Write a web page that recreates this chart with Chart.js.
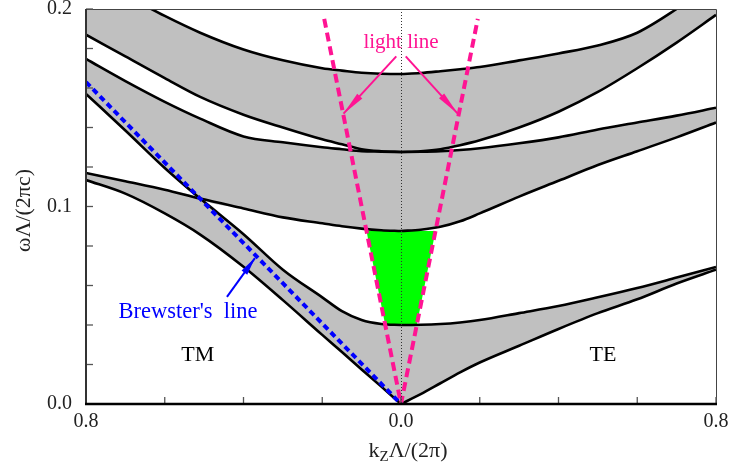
<!DOCTYPE html>
<html>
<head>
<meta charset="utf-8">
<title>Bandas projetadas TM / TE</title>
<script src="https://cdn.jsdelivr.net/npm/chart.js@4.4.0/dist/chart.umd.min.js"></script>
<style>
  html, body { margin: 0; padding: 0; background: #fff; }
</style>
</head>
<body>
<canvas id="grafico" width="730" height="471"></canvas>
<script>
// kz (em unidades de 2pi/Lambda): TM à esquerda, TE à direita
const kzTM = [-0.8, -0.7, -0.6, -0.51, -0.4, -0.3, -0.2, -0.15, -0.1, -0.05, 0];
const kzTE = [0, 0.05, 0.1, 0.15, 0.2, 0.3, 0.4, 0.5, 0.6, 0.7, 0.8];

// bordas das bandas TM (omega Lambda / 2 pi c)
const tmBaixo1 = [0.1134, 0.1065, 0.0965, 0.0858, 0.0695, 0.0526, 0.0350, 0.0263, 0.0175, 0.0088, 0];
const tmCurvaS = [0.1570, 0.1385, 0.1195, 0.1040, 0.0860, 0.0680, 0.0540, 0.0470, 0.0425, 0.0405, 0.0400];
const tmCurvaH = [0.1170, 0.1128, 0.1085, 0.1040, 0.0990, 0.0945, 0.0915, 0.0900, 0.0888, 0.0880, 0.0876];
const tmTopo2  = [0.1747, 0.1635, 0.1530, 0.1445, 0.1355, 0.1325, 0.1300, 0.1290, 0.1280, 0.1278, 0.1276];
const tmBaixo3 = [0.1870, 0.1760, 0.1650, 0.1555, 0.1465, 0.1400, 0.1340, 0.1315, 0.1290, 0.1280, 0.1276];
const tmTopo3  = [0.2180, 0.2070, 0.1965, 0.1880, 0.1795, 0.1740, 0.1700, 0.1688, 0.1677, 0.1672, 0.1671];

// bordas das bandas TE
const teBaixo1 = [0, 0.0050, 0.0105, 0.0160, 0.0210, 0.0295, 0.0380, 0.0460, 0.0530, 0.0610, 0.0680];
const teTopo1  = [0.0400, 0.0401, 0.0405, 0.0413, 0.0425, 0.0460, 0.0496, 0.0540, 0.0587, 0.0640, 0.0694];
const teBaixo2 = [0.0876, 0.0882, 0.0897, 0.0925, 0.0965, 0.1050, 0.1130, 0.1210, 0.1280, 0.1350, 0.1425];
const teTopo2  = [0.1276, 0.1277, 0.1280, 0.1286, 0.1295, 0.1320, 0.1350, 0.1390, 0.1425, 0.1460, 0.1500];
const teBaixo3 = [0.1276, 0.1280, 0.1290, 0.1310, 0.1335, 0.1400, 0.1480, 0.1580, 0.1700, 0.1830, 0.1970];
const teTopo3  = [0.1671, 0.1676, 0.1685, 0.1695, 0.1706, 0.1740, 0.1775, 0.1815, 0.1880, 0.2000, 0.2140];

// linha de Brewster e linha de luz
const brewsterKz = [-0.8, 0];
const brewsterW  = [0.163, 0];
const luzKz = [-0.195, 0, 0.195];
const luzW  = [0.195, 0, 0.195];

const SERIF = '"Liberation Serif", "Times New Roman", serif';
const CINZA = '#c0c0c0';
const ROSA = '#ff1493';
const AZUL = '#0000ff';

function pts(xs, ys) { return xs.map((x, i) => ({ x: x, y: ys[i] })); }

const datasets = [];

function addFaixa(xs, baixo, cima) {
  const i = datasets.length;
  datasets.push({ data: pts(xs, baixo), borderColor: 'rgba(0,0,0,0)', borderWidth: 0, fill: false,
    cubicInterpolationMode: 'monotone', order: 10 });
  datasets.push({ data: pts(xs, cima), borderColor: 'rgba(0,0,0,0)', borderWidth: 0,
    fill: { target: i }, backgroundColor: CINZA, cubicInterpolationMode: 'monotone', order: 10 });
}

function addLinha(xs, ys) {
  datasets.push({ data: pts(xs, ys), borderColor: '#000', borderWidth: 2.6, fill: false,
    cubicInterpolationMode: 'monotone', order: 5 });
}

// TM: as bordas S e H se cruzam na linha de Brewster
const tmTopo1 = tmCurvaS.map((v, i) => Math.min(v, tmCurvaH[i]));
const tmBase2 = tmCurvaS.map((v, i) => Math.max(v, tmCurvaH[i]));

addFaixa(kzTM, tmBaixo1, tmTopo1);
addFaixa(kzTM, tmBase2, tmTopo2);
addFaixa(kzTM, tmBaixo3, tmTopo3);
addFaixa(kzTE, teBaixo1, teTopo1);
addFaixa(kzTE, teBaixo2, teTopo2);
addFaixa(kzTE, teBaixo3, teTopo3);

// gap omnidirecional dentro do cone de luz
const gapBaixo = tmCurvaS[tmCurvaS.length - 1];
const gapCima = tmCurvaH[tmCurvaH.length - 1];
const r = luzKz[2] / luzW[2];
datasets.push({
  data: [
    { x: -gapCima * r, y: gapCima }, { x: gapCima * r, y: gapCima },
    { x: gapBaixo * r, y: gapBaixo }, { x: -gapBaixo * r, y: gapBaixo },
    { x: -gapCima * r, y: gapCima }
  ],
  borderColor: 'rgba(0,0,0,0)', borderWidth: 0, backgroundColor: '#00ff00', fill: 'shape', tension: 0, order: 9
});

[tmBaixo1, tmCurvaS, tmCurvaH, tmTopo2, tmBaixo3, tmTopo3].forEach(c => addLinha(kzTM, c));
[teBaixo1, teTopo1, teBaixo2, teTopo2, teBaixo3, teTopo3].forEach(c => addLinha(kzTE, c));

datasets.push({ data: pts(brewsterKz, brewsterW), borderColor: AZUL, borderWidth: 4,
  borderDash: [6, 4], fill: false, tension: 0, order: 1 });
datasets.push({ data: pts(luzKz, luzW), borderColor: ROSA, borderWidth: 4,
  borderDash: [9, 5], fill: false, tension: 0, order: 1 });

function perto(a, b) { return Math.abs(a - b) < 1e-6; }

function seta(ctx, x0, y0, x1, y1, cor, L) {
  const ang = Math.atan2(y1 - y0, x1 - x0);
  const c = Math.cos(ang), s = Math.sin(ang), w = 3.5;
  ctx.strokeStyle = cor;
  ctx.fillStyle = cor;
  ctx.lineWidth = 2;
  ctx.beginPath(); ctx.moveTo(x0, y0); ctx.lineTo(x1, y1); ctx.stroke();
  ctx.beginPath();
  ctx.moveTo(x1, y1);
  ctx.lineTo(x1 - L * c + w * s, y1 - L * s - w * c);
  ctx.lineTo(x1 - L * c - w * s, y1 - L * s + w * c);
  ctx.closePath();
  ctx.fill();
}

// sem margem extra para os rótulos: a área do gráfico fica fixa
function semMargem(s) {
  s.paddingTop = 0; s.paddingBottom = 0; s.paddingLeft = 0; s.paddingRight = 0;
}

// moldura, ticks para dentro, linha pontilhada em kz = 0, textos
const moldura = {
  id: 'moldura',
  afterDatasetsDraw(chart) {
    const { ctx, chartArea: a, scales: { x } } = chart;
    const x0 = Math.round(x.getPixelForValue(0)) + 0.5;
    ctx.save();
    ctx.strokeStyle = '#333';
    ctx.lineWidth = 1;
    ctx.setLineDash([1, 2]);
    ctx.beginPath(); ctx.moveTo(x0, a.top); ctx.lineTo(x0, a.bottom); ctx.stroke();
    ctx.restore();
  },
  afterDraw(chart) {
    const { ctx, chartArea: a, scales: { x, y } } = chart;
    ctx.save();
    ctx.strokeStyle = '#444';
    ctx.lineWidth = 1;
    ctx.beginPath();
    ctx.moveTo(a.left, a.top + 0.5); ctx.lineTo(a.right + 0.5, a.top + 0.5);
    ctx.lineTo(a.right + 0.5, a.bottom);
    ctx.stroke();

    ctx.strokeStyle = '#555';
    ctx.lineWidth = 1.3;
    y.ticks.forEach(t => {
      const py = y.getPixelForValue(t.value);
      ctx.beginPath(); ctx.moveTo(a.left, py); ctx.lineTo(a.left + 7, py); ctx.stroke();
    });
    x.ticks.forEach(t => {
      const px = x.getPixelForValue(t.value);
      ctx.beginPath(); ctx.moveTo(px, a.bottom); ctx.lineTo(px, a.bottom - 7); ctx.stroke();
    });

    ctx.strokeStyle = '#333';
    ctx.lineWidth = 2;
    ctx.beginPath(); ctx.moveTo(a.left, a.top); ctx.lineTo(a.left, a.bottom); ctx.stroke();
    ctx.strokeStyle = '#000';
    ctx.lineWidth = 2.6;
    ctx.beginPath(); ctx.moveTo(a.left - 1, a.bottom); ctx.lineTo(a.right + 1, a.bottom); ctx.stroke();

    const X = v => x.getPixelForValue(v);
    const Y = v => y.getPixelForValue(v);

    // textos dentro do gráfico
    ctx.textAlign = 'center';
    ctx.textBaseline = 'middle';
    ctx.fillStyle = '#000';
    ctx.font = '22px ' + SERIF;
    ctx.fillText('TM', X(-0.516), Y(0.0248));
    ctx.fillText('TE', X(0.513), Y(0.0248));

    ctx.fillStyle = ROSA;
    ctx.font = '21px ' + SERIF;
    ctx.fillText('light line', X(0), Y(0.1828));
    seta(ctx, X(-0.012), Y(0.176), X(-0.146), Y(0.147), ROSA, 24);
    seta(ctx, X(0.012), Y(0.176), X(0.144), Y(0.147), ROSA, 24);

    ctx.fillStyle = AZUL;
    ctx.font = '22.5px ' + SERIF;
    ctx.fillText('Brewster\'s  line', X(-0.541), Y(0.0466));
    seta(ctx, X(-0.442), Y(0.0542), X(-0.371), Y(0.0739), AZUL, 18);

    // títulos dos eixos
    ctx.fillStyle = '#222';
    ctx.textAlign = 'left';
    ctx.textBaseline = 'alphabetic';
    const big = '22px ' + SERIF, small = '15px ' + SERIF;
    ctx.font = big; const wk = ctx.measureText('k').width;
    const resto = '\u039b/(2\u03c0)';
    const wr = ctx.measureText(resto).width;
    ctx.font = small; const wz = ctx.measureText('Z').width;
    let cx = (a.left + a.right) / 2 + 7 - (wk + wz + wr) / 2;
    const base = a.bottom + 53;
    ctx.font = big; ctx.fillText('k', cx, base); cx += wk;
    ctx.font = small; ctx.fillText('Z', cx, base + 4); cx += wz;
    ctx.font = big; ctx.fillText(resto, cx, base);

    ctx.translate(24, (a.top + a.bottom) / 2 + 4);
    ctx.rotate(-Math.PI / 2);
    ctx.textAlign = 'center';
    ctx.textBaseline = 'middle';
    ctx.font = '22px ' + SERIF;
    ctx.fillText('\u03c9\u039b/(2\u03c0c)', 0, 0);
    ctx.restore();
  }
};

new Chart(document.getElementById('grafico'), {
  type: 'line',
  data: { datasets: datasets },
  options: {
    responsive: false,
    animation: false,
    devicePixelRatio: 1,
    layout: { padding: { top: 9, right: 14, left: 0, bottom: 0 } },
    plugins: { legend: { display: false }, tooltip: { enabled: false } },
    elements: { point: { radius: 0, hoverRadius: 0 } },
    scales: {
      x: {
        type: 'linear', min: -0.8, max: 0.8,
        grid: { display: false, drawTicks: false }, border: { display: false },
        ticks: {
          stepSize: 0.2, autoSkip: false, maxRotation: 0, padding: 6, color: '#222',
          font: { family: SERIF, size: 20 },
          callback: v => (perto(v, -0.8) || perto(v, 0) || perto(v, 0.8)) ? Math.abs(v).toFixed(1) : ''
        },
        afterFit(s) { s.height = 67; semMargem(s); }
      },
      y: {
        type: 'linear', min: 0, max: 0.2,
        grid: { display: false, drawTicks: false }, border: { display: false },
        ticks: {
          stepSize: 0.02, autoSkip: false, padding: 14, color: '#222',
          font: { family: SERIF, size: 20 },
          callback: v => perto(v * 10, Math.round(v * 10)) ? v.toFixed(1) : ''
        },
        afterFit(s) { s.width = 86; semMargem(s); }
      }
    }
  },
  plugins: [moldura]
});
</script>
</body>
</html>
